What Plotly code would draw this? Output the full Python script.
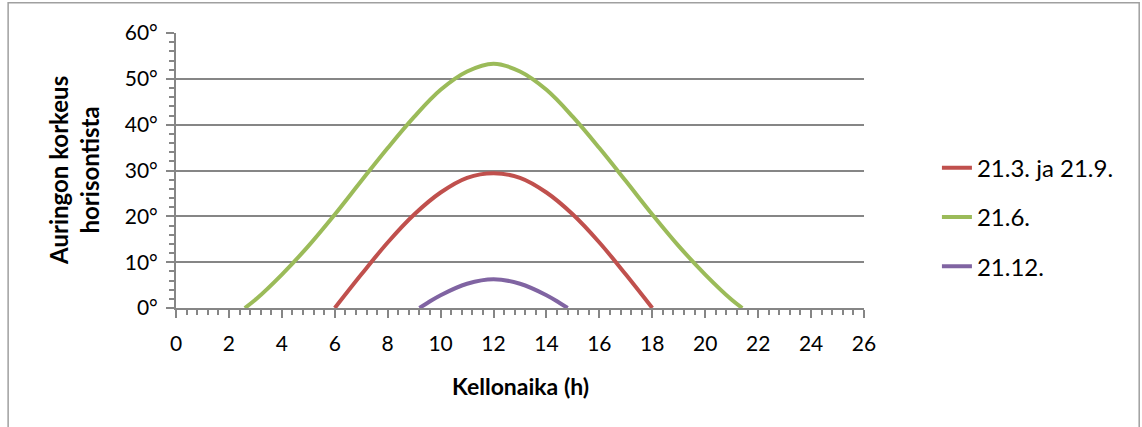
import plotly.graph_objects as go

# Data
hours_equinox = [6, 7, 8, 9, 10, 11, 12, 13, 14, 15, 16, 17, 18]
alt_equinox = [0, 7.3, 14.3, 20.4, 25.2, 28.4, 29.4, 28.4, 25.2, 20.4, 14.3, 7.3, 0]

hours_june = [2.6, 3, 4, 5, 6, 7, 8, 9, 10, 11, 12, 13, 14, 15, 16, 17, 18, 19, 20, 21, 21.4]
alt_june = [0, 1.8, 7.3, 13.5, 20.4, 27.7, 34.9, 41.7, 47.6, 51.6, 53.3, 51.6, 47.6, 41.7, 34.9, 27.7, 20.4, 13.5, 7.3, 1.8, 0]

hours_december = [9.2, 9.5, 10, 11, 12, 13, 14, 14.5, 14.8]
alt_december = [0, 1.1, 2.8, 5.3, 6.3, 5.3, 2.8, 1.1, 0]

series_names = ["21.3. ja 21.9.", "21.6.", "21.12."]
series_colors = ["#C0504D", "#9BBB59", "#8064A2"]

x_ticks = list(range(0, 27, 2))
y_ticks = [0, 10, 20, 30, 40, 50, 60]
y_tick_labels = [f"{v}°" for v in y_ticks]

FONT = "Lato, Calibri, Carlito, sans-serif"
GRAY = "#868686"

fig = go.Figure()
for i, (xs, ys) in enumerate([(hours_equinox, alt_equinox),
                               (hours_june, alt_june),
                               (hours_december, alt_december)]):
    fig.add_trace(go.Scatter(
        x=xs, y=ys, mode="lines", name=series_names[i],
        legendgroup=f"g{i}",
        line=dict(color=series_colors[i], width=4, shape="spline", smoothing=1.0),
    ))

fig.update_layout(
    width=1142, height=427,
    margin=dict(l=176, r=278, t=33, b=119),
    paper_bgcolor="white", plot_bgcolor="white",
    font=dict(family=FONT, size=21, color="black"),
    showlegend=True,
    legend=dict(x=1.106, y=0.59, xanchor="left", yanchor="top",
                traceorder="grouped", tracegroupgap=15,
                font=dict(size=24), bgcolor="rgba(0,0,0,0)"),
    xaxis=dict(range=[0, 26], tickvals=x_ticks, ticktext=[str(v) for v in x_ticks],
               showgrid=False, zeroline=False, showline=True, linecolor=GRAY, linewidth=2,
               ticks="outside", ticklen=8, tickwidth=2, tickcolor=GRAY,
               ticklabelstandoff=8,
               minor=dict(dtick=0.4, tick0=0, ticks="outside", ticklen=5, tickwidth=2,
                          tickcolor=GRAY, showgrid=False),
               fixedrange=True),
    yaxis=dict(range=[0, 60], tickvals=y_ticks, ticktext=y_tick_labels,
               showgrid=True, gridcolor=GRAY, gridwidth=1.5, zeroline=False,
               showline=True, linecolor=GRAY, linewidth=2,
               ticks="outside", ticklen=8, tickwidth=2, tickcolor=GRAY,
               ticklabelstandoff=4,
               minor=dict(dtick=2, tick0=0, ticks="outside", ticklen=5, tickwidth=2,
                          tickcolor=GRAY, showgrid=False),
               fixedrange=True),
    annotations=[
        dict(text="<b>Kellonaika (h)</b>", xref="paper", yref="paper",
             x=0.5, y=-0.285, xanchor="center", yanchor="middle", showarrow=False,
             font=dict(size=23)),
        dict(text="<b>Auringon korkeus<br>horisontista</b>", xref="paper", yref="paper",
             x=-0.149, y=0.5, xanchor="center", yanchor="middle", showarrow=False,
             textangle=-90, font=dict(size=24)),
    ],
    shapes=[
        dict(type="rect", xref="paper", yref="paper",
             x0=-0.244, x1=1.4, y0=-0.5, y1=1.11,
             line=dict(color="#A0A0A0", width=1.5), fillcolor="rgba(0,0,0,0)", layer="below"),
    ],
)

fig.write_html("out.html")
